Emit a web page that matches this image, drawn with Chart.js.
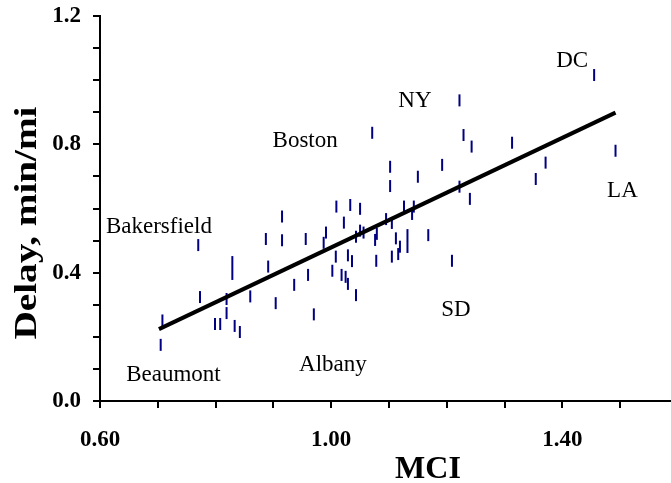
<!DOCTYPE html>
<html>
<head>
<meta charset="utf-8">
<script src="https://cdn.jsdelivr.net/npm/chart.js@4.4.1/dist/chart.umd.min.js"></script>
<style>
  html, body { margin: 0; padding: 0; background: #fff; }
</style>
</head>
<body>
<canvas id="delayChart" width="671" height="483"></canvas>
<script>
// Data kota: MCI vs delay (min/mi)
const mci = [
    0.705, 0.708, 0.770, 0.773, 0.799, 0.808, 0.819, 0.819, 0.829, 0.829,
    0.833, 0.842, 0.860, 0.887, 0.891, 0.904, 0.915, 0.915, 0.936, 0.956,
    0.960, 0.970, 0.987, 0.991, 1.002, 1.009, 1.008, 1.018, 1.022, 1.025,
    1.029, 1.029, 1.033, 1.036, 1.043, 1.043, 1.050, 1.050, 1.056, 1.071,
    1.076, 1.079, 1.078, 1.095, 1.102, 1.102, 1.105, 1.105, 1.112, 1.116,
    1.119, 1.126, 1.132, 1.132, 1.140, 1.143, 1.150, 1.168, 1.192, 1.209,
    1.222, 1.222, 1.229, 1.240, 1.243, 1.313, 1.354, 1.371, 1.455, 1.492
];
const delay = [
    0.175, 0.251, 0.486, 0.324, 0.240, 0.240, 0.318, 0.274, 0.433, 0.396,
    0.234, 0.215, 0.326, 0.505, 0.419, 0.305, 0.575, 0.501, 0.362, 0.505,
    0.393, 0.270, 0.493, 0.525, 0.406, 0.606, 0.450, 0.393, 0.556, 0.387,
    0.365, 0.454, 0.611, 0.436, 0.330, 0.512, 0.599, 0.531, 0.525, 0.836,
    0.502, 0.521, 0.437, 0.567, 0.730, 0.670, 0.555, 0.450, 0.507, 0.458,
    0.481, 0.606, 0.517, 0.480, 0.583, 0.606, 0.699, 0.517, 0.736, 0.437,
    0.937, 0.668, 0.829, 0.630, 0.793, 0.805, 0.692, 0.743, 1.016, 0.780
];

// Garis regresi
const fitMci = [0.702, 1.492];
const fitDelay = [0.224, 0.899];

// Label nama kota (posisi tengah teks, dalam satuan data)
const cityNames = ['Bakersfield', 'Beaumont', 'Boston', 'Albany', 'NY', 'DC', 'LA', 'SD'];
const cityMci   = [0.702, 0.727, 0.955, 1.003, 1.145, 1.417, 1.504, 1.216];
const cityDelay = [0.547, 0.087, 0.817, 0.118, 0.940, 1.064, 0.659, 0.290];

// Tick yang diberi label
const xTickLabels = [0.60, 1.00, 1.40];
const yTickLabels = [0.0, 0.4, 0.8, 1.2];

const serif = "'Liberation Serif', 'Times New Roman', serif";
Chart.defaults.font.family = serif;
Chart.defaults.color = '#000';

function isLabelled(value, list) {
    return list.some(v => Math.abs(v - value) < 1e-6);
}

// Menggambar label kota dan judul sumbu
const textPlugin = {
    id: 'textPlugin',
    afterDatasetsDraw(chart) {
        const ctx = chart.ctx;
        const x = chart.scales.x;
        const y = chart.scales.y;
        ctx.save();
        ctx.fillStyle = '#000';
        ctx.font = '23px ' + serif;
        ctx.textAlign = 'center';
        ctx.textBaseline = 'alphabetic';
        cityNames.forEach((name, i) => {
            ctx.fillText(name, x.getPixelForValue(cityMci[i]), y.getPixelForValue(cityDelay[i]) + 7.8);
        });

        // judul sumbu x
        ctx.font = 'bold 32px ' + serif;
        ctx.fillText('MCI', 428, 478);

        // judul sumbu y (diputar)
        ctx.translate(28, 223);
        ctx.rotate(-Math.PI / 2);
        ctx.font = 'bold 31px ' + serif;
        const w = ctx.measureText('Delay, min/mi').width;
        ctx.scale(233 / w, 1);
        ctx.textBaseline = 'middle';
        ctx.fillText('Delay, min/mi', 0, 0);
        ctx.restore();
    }
};

const ctx = document.getElementById('delayChart').getContext('2d');

new Chart(ctx, {
    data: {
        datasets: [{
            type: 'line',
            data: fitMci.map((v, i) => ({ x: v, y: fitDelay[i] })),
            borderColor: '#000',
            borderWidth: 4,
            pointRadius: 0,
            order: 0
        }, {
            type: 'scatter',
            data: mci.map((v, i) => ({ x: v, y: delay[i] })),
            pointStyle: 'line',
            rotation: 90,
            radius: 6,
            borderColor: '#000080',
            backgroundColor: '#000080',
            borderWidth: 2,
            order: 1
        }]
    },
    options: {
        responsive: false,
        animation: false,
        layout: {
            autoPadding: false,
            padding: { top: 16, right: 0, bottom: 0, left: 0 }
        },
        plugins: {
            legend: { display: false },
            tooltip: { enabled: false }
        },
        scales: {
            x: {
                type: 'linear',
                min: 0.6,
                max: 1.588,
                afterFit: s => {
                    s.height = 82;
                    s.paddingLeft = 0;
                    s.paddingRight = 0;
                },
                ticks: {
                    stepSize: 0.1,
                    includeBounds: false,
                    maxRotation: 0,
                    autoSkip: false,
                    padding: 18,
                    font: { size: 23, weight: 'bold', lineHeight: 1.2 },
                    callback: v => isLabelled(v, xTickLabels) ? v.toFixed(2) : ''
                },
                grid: {
                    drawOnChartArea: false,
                    drawTicks: true,
                    tickLength: 7,
                    color: '#000',
                    lineWidth: 2
                },
                border: { display: true, color: '#000', width: 2 }
            },
            y: {
                type: 'linear',
                min: 0,
                max: 1.2,
                afterFit: s => {
                    s.width = 100;
                    s.paddingTop = 0;
                    s.paddingBottom = 0;
                },
                ticks: {
                    stepSize: 0.1,
                    autoSkip: false,
                    padding: 12,
                    font: { size: 23, weight: 'bold', lineHeight: 1.2 },
                    callback: v => isLabelled(v, yTickLabels) ? v.toFixed(1) : ''
                },
                grid: {
                    drawOnChartArea: false,
                    drawTicks: true,
                    tickLength: 7,
                    color: '#000',
                    lineWidth: 2
                },
                border: { display: true, color: '#000', width: 2 }
            }
        }
    },
    plugins: [textPlugin]
});
</script>
</body>
</html>
